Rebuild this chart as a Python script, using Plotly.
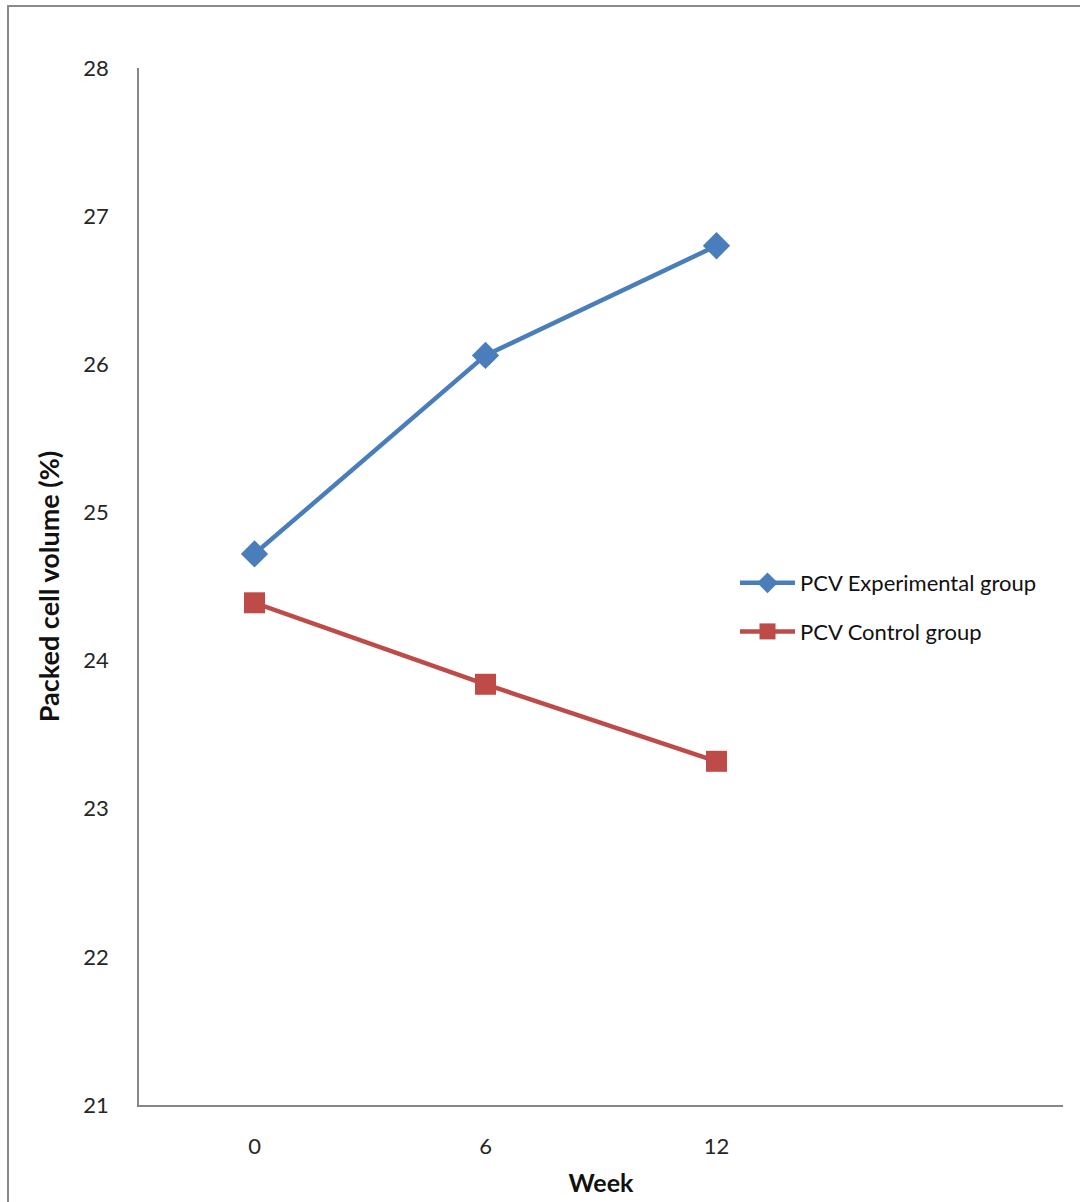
import plotly.graph_objects as go

# Packed cell volume over the trial period
weeks = ["0", "6", "12"]
pcv_experimental = [24.72, 26.06, 26.80]
pcv_control = [24.39, 23.84, 23.32]

y_ticks = [21, 22, 23, 24, 25, 26, 27, 28]

W, H = 1080, 1202
ml, mr, mt, mb = 139, 17, 68, 97
pw, ph = W - ml - mr, H - mt - mb

x_pos = list(range(len(weeks)))

fig = go.Figure()
fig.add_trace(go.Scatter(
    x=x_pos, y=pcv_experimental, mode="lines+markers",
    name="PCV Experimental group", legendgroup="exp",
    line=dict(color="#4A7EBB", width=4.5),
    marker=dict(symbol="diamond", size=21, color="#4A7EBB"),
))
fig.add_trace(go.Scatter(
    x=x_pos, y=pcv_control, mode="lines+markers",
    name="PCV Control group", legendgroup="ctl",
    line=dict(color="#BE4B48", width=4.5),
    marker=dict(symbol="square", size=21, color="#BE4B48"),
))

def px_x(p):
    return (p - ml) / pw

def px_y(p):
    return (H - mb - p) / ph

# outer frame of the chart area
fig.add_shape(type="rect", xref="paper", yref="paper",
              x0=px_x(8), x1=px_x(1090), y0=px_y(1215), y1=px_y(6),
              line=dict(color="#8A8A8A", width=2), fillcolor="rgba(0,0,0,0)",
              layer="below")

fig.update_layout(
    width=W, height=H,
    margin=dict(l=ml, r=mr, t=mt, b=mb, autoexpand=False),
    paper_bgcolor="white", plot_bgcolor="white",
    font=dict(family="Lato, 'Open Sans', sans-serif", color="#262626", size=22),
    showlegend=True,
    legend=dict(x=px_x(735), y=px_y(562), xanchor="left", yanchor="top",
                font=dict(size=22, color="#111111"), tracegroupgap=17,
                itemwidth=55, bgcolor="rgba(0,0,0,0)"),
    xaxis=dict(
        range=[-0.5, 3.5], tickvals=x_pos, ticktext=weeks,
        showgrid=False, zeroline=False, showline=True, automargin=False,
        linecolor="#868686", linewidth=1.5, ticks="",
        ticklabelstandoff=21,
        title=dict(text="<b>Week</b>", font=dict(size=25, color="#111111"), standoff=16),
    ),
    yaxis=dict(
        range=[21, 28], tickvals=y_ticks,
        showgrid=False, zeroline=False, showline=True, automargin=False,
        linecolor="#868686", linewidth=1.5, ticks="",
        ticklabelstandoff=24,
        title=dict(text="<b>Packed cell volume (%)</b>", font=dict(size=27, color="#111111"), standoff=16),
    ),
)

fig.write_html("out.html")
